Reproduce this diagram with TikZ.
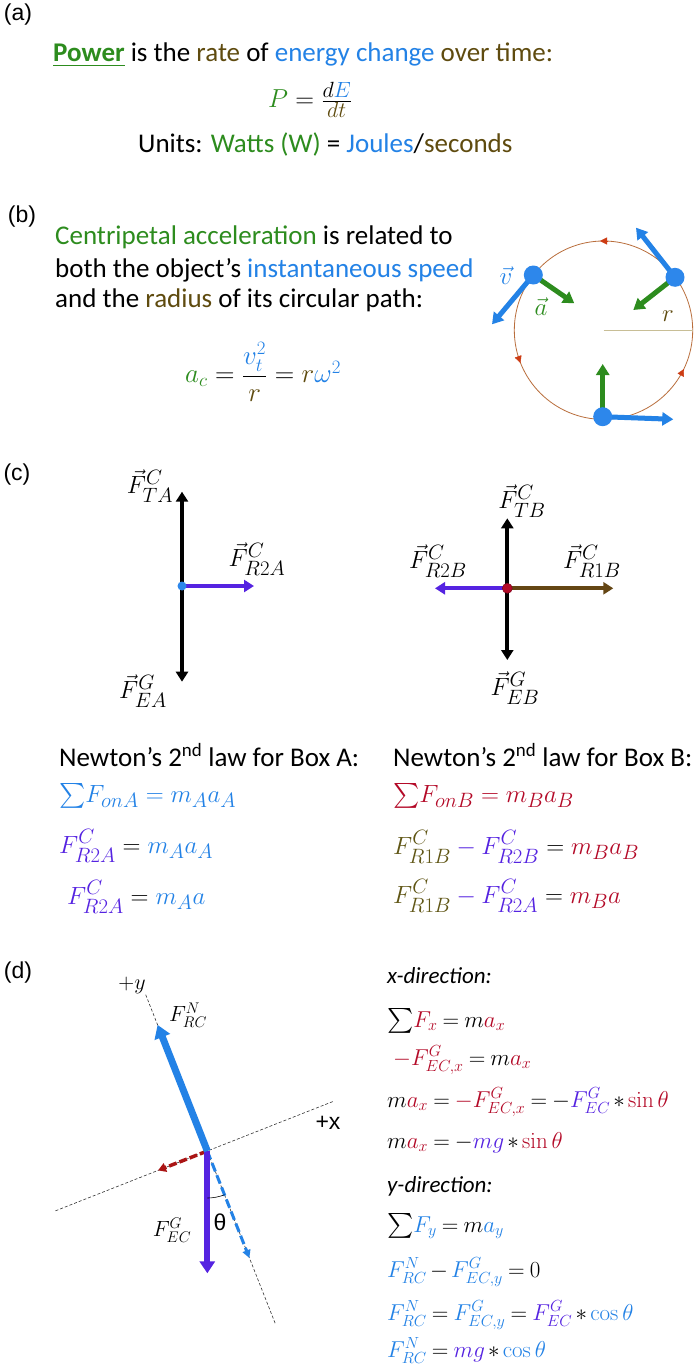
\documentclass[tikz,border=0pt]{standalone}
\usepackage{fix-cm}
\usepackage{amsmath}
\usepackage[no-math]{fontspec}
\setmainfont{Carlito}
\newfontfamily\arialf{Liberation Sans}
\usetikzlibrary{arrows.meta}
\definecolor{cgreen}{RGB}{45,140,30}
\definecolor{cblue}{RGB}{35,130,230}
\definecolor{cbrown}{RGB}{95,75,15}
\definecolor{cpurple}{RGB}{85,35,225}
\definecolor{cred}{RGB}{180,10,40}
\definecolor{colive}{RGB}{95,85,20}
\definecolor{ccirc}{RGB}{185,110,60}
\definecolor{ctri}{RGB}{205,60,20}
\definecolor{crad}{RGB}{200,190,150}
\definecolor{cdred}{RGB}{170,20,20}
\definecolor{cabrown}{RGB}{100,70,20}
\definecolor{cdot}{RGB}{45,135,235}
\newcommand{\tightm}{\thickmuskip=4mu plus 2mu\medmuskip=2.5mu plus 1mu}
\newcommand{\fracpart}[1]{\hbox{\fontsize{22}{24}\selectfont$#1$}}
\tikzset{
  txt/.style={font=\fontsize{27}{32}\selectfont, inner sep=0pt, anchor=base west},
  itx/.style={font=\fontsize{23}{28}\selectfont\itshape, inner sep=0pt, anchor=base west},
  plab/.style={font=\arialf\fontsize{23}{27}\selectfont, inner sep=0pt},
  mth/.style={font=\fontsize{24.88}{29}\selectfont, inner sep=0pt},
  mthl/.style={mth, anchor=base west},
  dmth/.style={font=\fontsize{23}{27}\selectfont, inner sep=0pt, anchor=base west},
  dlab/.style={font=\fontsize{22}{26}\selectfont, inner sep=0pt},
  velarr/.style={cblue, line width=5pt, -{Triangle[length=11pt,width=13pt]}},
  accarr/.style={cgreen, line width=5pt, -{Triangle[length=11pt,width=13pt]}},
  fbd/.style={line width=4pt, -{Triangle[length=10pt,width=12pt]}},
  tri/.style={ctri, line width=0.4pt, -{Triangle[length=7pt,width=7pt]}},
  axisline/.style={black!80, line width=0.6pt, dash pattern=on 3pt off 2pt},
}
\begin{document}
\begin{tikzpicture}[x=1pt,y=-1pt]
\useasboundingbox (0,0) rectangle (700,1367);
\fill[white] (0,0) rectangle (700,1367);

% ---------------- (a)
\node[plab] (la) at (18,15) {(a)};
\node[txt] (pow) at (53,62) {\textcolor{cgreen}{\textbf{\underline{Power}}} is the \textcolor{cbrown}{rate} of \textcolor{cblue}{energy change} \textcolor{cbrown}{over time:}};
\node[mth, anchor=west, font=\fontsize{26}{30}\selectfont] (peq) at (268,100) {$\textcolor{cgreen}{P}=\frac{\fracpart{d\textcolor{cblue}{E}}}{\fracpart{\textcolor{cbrown}{dt}}}$};
\node[txt] (units) at (138,153) {Units: \textcolor{cgreen}{Watts (W)} = \textcolor{cblue}{Joules}/\textcolor{cbrown}{seconds}};

% ---------------- (b)
\node[plab] (lb) at (22,217) {(b)};
\node[txt] (b1) at (55,244) {\textcolor{cgreen}{Centripetal acceleration} is related to};
\node[txt] (b2) at (55,277) {both the object’s \textcolor{cblue}{instantaneous speed}};
\node[txt] (b3) at (55,307) {and the \textcolor{cbrown}{radius} of its circular path:};
\node[mth, anchor=west, font=\fontsize{27}{32}\selectfont] (beq) at (185,372) {$\textcolor{cgreen}{a_c}=\dfrac{\textcolor{cblue}{v_t^2}}{\textcolor{cbrown}{r}}=\textcolor{cbrown}{r}\textcolor{cblue}{\omega^2}$};

\coordinate (cc) at (603.5,330.2);
\coordinate (rend) at (692.7,330.2);
\draw[ccirc, line width=0.8pt] (cc) circle[radius=89.2];
\draw[crad, line width=0.8pt] (cc) -- (rend);
\coordinate (t1a) at (607,241); \coordinate (t1b) at (600,241);
\coordinate (t2a) at (518.1,356.4); \coordinate (t2b) at (520.5,363.0);
\coordinate (t3a) at (680.6,375.2); \coordinate (t3b) at (684.0,369.0);
\draw[tri] (t1a) -- (t1b);
\draw[tri] (t2a) -- (t2b);
\draw[tri] (t3a) -- (t3b);

\coordinate (d1) at (533.3,275);
\coordinate (d2) at (675,277.3);
\coordinate (d3) at (602.7,416.7);
\coordinate (v1) at (492,324.3);
\coordinate (v2) at (636,227.7);
\coordinate (v3) at (673.3,419.3);
\coordinate (a1) at (574.3,303.3);
\coordinate (a2) at (633.3,310);
\coordinate (a3) at (602.7,364);
\draw[velarr] (d1) -- (v1);
\draw[velarr] (d2) -- (v2);
\draw[velarr] (d3) -- (v3);
\draw[accarr] (d1) -- (a1);
\draw[accarr] (d2) -- (a2);
\draw[accarr] (d3) -- (a3);
\fill[cdot] (d1) circle[radius=9.5];
\fill[cdot] (d2) circle[radius=9.5];
\fill[cdot] (d3) circle[radius=9.5];
\node[mth, text=cblue] (vlab) at (506,276) {$\vec{v}$};
\node[mth, text=cgreen] (alab) at (541,307) {$\vec{a}$};
\node[mth, text=cbrown] (rlab) at (668,316) {$r$};

% ---------------- (c)
\node[plab] (lc) at (17,475) {(c)};
\coordinate (oA) at (182,586);
\coordinate (upA) at (182,491.7);
\coordinate (dnA) at (182,681.7);
\coordinate (rtA) at (254,586);
\draw[fbd, black] (oA) -- (upA);
\draw[fbd, black] (oA) -- (dnA);
\draw[fbd, cpurple] (oA) -- (rtA);
\fill[cdot] (oA) circle[radius=4.5];
\node[mth] (fta) at (150,486) {$\vec{F}^{C}_{TA}$};
\node[mth] (fr2a) at (257,559) {$\vec{F}^{C}_{R2A}$};
\node[mth] (fea) at (143,691) {$\vec{F}^{G}_{EA}$};

\coordinate (oB) at (507.3,588.3);
\coordinate (upB) at (507.3,518.3);
\coordinate (dnB) at (507.3,660);
\coordinate (lfB) at (435,588.3);
\coordinate (rtB) at (613.3,588.3);
\draw[fbd, black] (oB) -- (upB);
\draw[fbd, black] (oB) -- (dnB);
\draw[fbd, cpurple] (oB) -- (lfB);
\draw[fbd, cabrown] (oB) -- (rtB);
\fill[cred, draw=cred!70!black, line width=0.5pt] (oB) circle[radius=5];
\node[mth] (ftb) at (522,501) {$\vec{F}^{C}_{TB}$};
\node[mth] (fr2b) at (438,561) {$\vec{F}^{C}_{R2B}$};
\node[mth] (fr1b) at (592,561) {$\vec{F}^{C}_{R1B}$};
\node[mth] (feb) at (515,688) {$\vec{F}^{G}_{EB}$};

\node[txt] (nA) at (59,766) {Newton’s 2\textsuperscript{nd} law for Box A:};
\node[txt] (nB) at (393,766) {Newton’s 2\textsuperscript{nd} law for Box B:};
\node[mthl, text=cblue] (eA1) at (59,802) {$\textstyle\sum\!F_{onA}=m_Aa_A$};
\node[mthl] (eA2) at (59,853) {$\textcolor{cpurple}{F^{C}_{R2A}}=\textcolor{cblue}{m_Aa_A}$};
\node[mthl] (eA3) at (67,904) {$\textcolor{cpurple}{F^{C}_{R2A}}=\textcolor{cblue}{m_Aa}$};
\node[mthl, text=cred] (eB1) at (393,802) {$\textstyle\sum\!F_{onB}=m_Ba_B$};
\node[mthl] (eB2) at (393,854) {$\textcolor{colive}{F^{C}_{R1B}}\textcolor{cpurple}{{}-F^{C}_{R2B}}=\textcolor{cred}{m_Ba_B}$};
\node[mthl] (eB3) at (393,903) {$\textcolor{colive}{F^{C}_{R1B}}\textcolor{cpurple}{{}-F^{C}_{R2A}}=\textcolor{cred}{m_Ba}$};

% ---------------- (d)
\node[plab] (ld) at (18,973) {(d)};
\coordinate (O) at (207.3,1151);
\coordinate (yax1) at (145.7,994.7);
\coordinate (yax2) at (275.4,1323.9);
\coordinate (xax1) at (55.5,1210.8);
\coordinate (xax2) at (333.2,1101.4);
\draw[axisline] (yax1) -- (yax2);
\draw[axisline] (xax1) -- (xax2);
\coordinate (ntip) at (157.6,1024.9);
\coordinate (gtip) at (207.3,1273.3);
\coordinate (gytip) at (249.4,1258);
\coordinate (gxtip) at (158,1170.4);
\draw[cblue, line width=3pt, dash pattern=on 9pt off 4pt, -{Triangle[length=8pt,width=8pt]}] (O) -- (gytip);
\draw[cdred, line width=3.5pt, dash pattern=on 8pt off 3pt, -{Triangle[length=8pt,width=9pt]}] (O) -- (gxtip);
\draw[cpurple, line width=6pt, -{Triangle[length=12pt,width=15pt]}] (O) -- (gtip);
\draw[cblue, line width=7pt, -{Triangle[length=13pt,width=16pt]}] (O) -- (ntip);
\draw[black, line width=0.6pt] (207.3,1198) arc[start angle=90, end angle=68.5, radius=47];
\node[plab] (thl) at (220,1222) {θ};
\node[dlab] (pyl) at (132,985) {$+y$};
\node[plab] (pxl) at (328,1123) {+x};
\node[dlab] (fnl) at (188,1015) {$F^{N}_{RC}$};
\node[dlab] (fgl) at (172,1230) {$F^{G}_{EC}$};

\node[itx] (xdir) at (387,983) {x-direction:};
\node[dmth] (x1) at (387,1027) {$\tightm\textstyle\sum\!\textcolor{cred}{F_x}=m\textcolor{cred}{a_x}$};
\node[dmth] (x2) at (393,1065) {$\tightm\textcolor{cred}{-F^{G}_{EC,x}}=m\textcolor{cred}{a_x}$};
\node[dmth] (x3) at (387,1107) {$\tightm m\textcolor{cred}{a_x}=\textcolor{cred}{-F^{G}_{EC,x}}=-\textcolor{cpurple}{F^{G}_{EC}}*\textcolor{cred}{\sin\theta}$};
\node[dmth] (x4) at (387,1148) {$\tightm m\textcolor{cred}{a_x}=-\textcolor{cpurple}{mg}*\textcolor{cred}{\sin\theta}$};
\node[itx] (ydir) at (387,1192) {y-direction:};
\node[dmth] (y1) at (387,1232) {$\tightm\textstyle\sum\!\textcolor{cblue}{F_y}=m\textcolor{cblue}{a_y}$};
\node[dmth] (y2) at (387,1277) {$\tightm\textcolor{cblue}{F^{N}_{RC}}-\textcolor{cblue}{F^{G}_{EC,y}}=0$};
\node[dmth] (y3) at (387,1320) {$\tightm\textcolor{cblue}{F^{N}_{RC}}=\textcolor{cblue}{F^{G}_{EC,y}}=\textcolor{cpurple}{F^{G}_{EC}}*\textcolor{cblue}{\cos\theta}$};
\node[dmth] (y4) at (387,1357) {$\tightm\textcolor{cblue}{F^{N}_{RC}}=\textcolor{cpurple}{mg}*\textcolor{cblue}{\cos\theta}$};
\end{tikzpicture}
\end{document}
